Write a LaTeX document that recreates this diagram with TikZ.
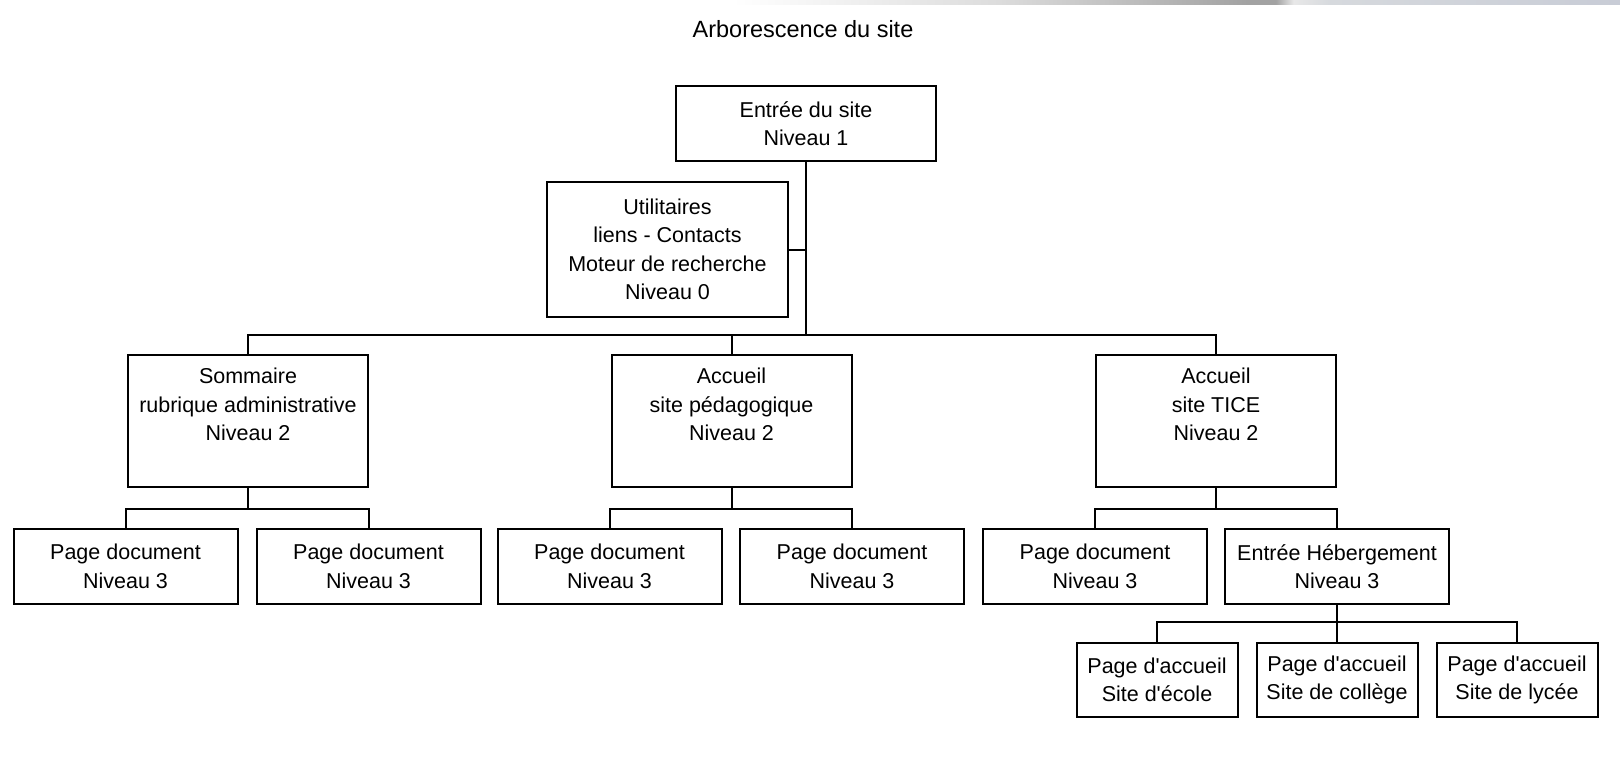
\documentclass[tikz,border=0pt]{standalone}
\usepackage{fontspec}
\newfontfamily\lib{Liberation Sans}
\setmainfont{Liberation Sans}
\usetikzlibrary{calc}
\definecolor{gA}{HTML}{DCDCDC}
\definecolor{gB}{HTML}{A2A2A2}
\definecolor{gC}{HTML}{E8E8E8}
\definecolor{gD}{HTML}{D6D9DD}
\definecolor{gE}{HTML}{C8CCD6}
\pgfdeclarehorizontalshading{topbar}{100bp}{color(0bp)=(white); color(25bp)=(white); color(40bp)=(gA); color(54bp)=(gB); color(55.6bp)=(gB); color(56.6bp)=(gC); color(58.7bp)=(gD); color(75bp)=(gE); color(100bp)=(gE)}
\newcommand{\boxfont}{\lib\fontsize{21.5}{28.5}\selectfont}
\tikzset{
  box/.style={draw, line width=2pt, align=center, inner sep=0pt, font=\boxfont},
  lvone/.style={box, minimum width=260pt, minimum height=75pt},
  lvzero/.style={box, minimum width=241pt, minimum height=135pt},
  lvtwo/.style={box, minimum width=240pt, minimum height=132pt},
  lvthree/.style={box, minimum width=224pt, minimum height=75pt},
  lvfour/.style={box, minimum width=161pt, minimum height=74pt},
  toptext/.style={align=center, anchor=north, inner sep=0pt, font=\boxfont, yshift=-14pt},
  conn/.style={line width=2pt}
}
\begin{document}
\begin{tikzpicture}[x=1pt,y=-1pt]
\useasboundingbox (0,0) rectangle (1620,784);
\shade[shading=topbar] (733,0) rectangle (1620,5);
\node[font=\lib\fontsize{23.5}{28}\selectfont] (title) at (803,29) {Arborescence du site};

\node[lvone] (top) at (806,123.5) {Entrée du site\\Niveau 1};
\node[lvzero] (util) at (667.5,249.5) {Utilitaires\\liens - Contacts\\Moteur de recherche\\Niveau 0};

\node[lvtwo, label={[toptext]north:Sommaire\\rubrique administrative\\Niveau 2}] (som) at (248,421) {};
\node[lvtwo, label={[toptext]north:Accueil\\site pédagogique\\Niveau 2}] (ped) at (731.5,421) {};
\node[lvtwo, label={[toptext]north:Accueil\\site TICE\\Niveau 2}] (tice) at (1216,421) {};

\node[lvthree] (pd1) at (125.5,566.5) {Page document\\Niveau 3};
\node[lvthree] (pd2) at (368.5,566.5) {Page document\\Niveau 3};
\node[lvthree] (pd3) at (609.5,566.5) {Page document\\Niveau 3};
\node[lvthree] (pd4) at (852,566.5) {Page document\\Niveau 3};
\node[lvthree] (pd5) at (1095,566.5) {Page document\\Niveau 3};
\node[lvthree] (heb) at (1337,566.5) {Entrée Hébergement\\Niveau 3};

\node[lvfour] (ec) at (1157,680) {Page d'accueil\\Site d'école};
\node[lvfour] (co) at (1337,680) {Page d'accueil\\Site de collège};
\node[lvfour] (ly) at (1517,680) {Page d'accueil\\Site de lycée};

\coordinate (j) at (top.south |- 0,335);
\draw[conn] (top.south) -- (j);
\draw[conn] (util.east) -- (util.east -| j);
\draw[conn] (som.north) |- (j) -| (tice.north);
\draw[conn] (ped.north) -- (ped.north |- j);

\draw[conn] (som.south) -- ++(0,21) coordinate (js);
\draw[conn] (pd1.north) |- (js) -| (pd2.north);
\draw[conn] (ped.south) -- ++(0,21) coordinate (jp);
\draw[conn] (pd3.north) |- (jp) -| (pd4.north);
\draw[conn] (tice.south) -- ++(0,21) coordinate (jt);
\draw[conn] (pd5.north) |- (jt) -| (heb.north);

\draw[conn] (heb.south) -- (heb.south |- 0,622) coordinate (jh);
\draw[conn] (ec.north) |- (jh) -| (ly.north);
\draw[conn] (co.north) -- (co.north |- jh);
\end{tikzpicture}
\end{document}
